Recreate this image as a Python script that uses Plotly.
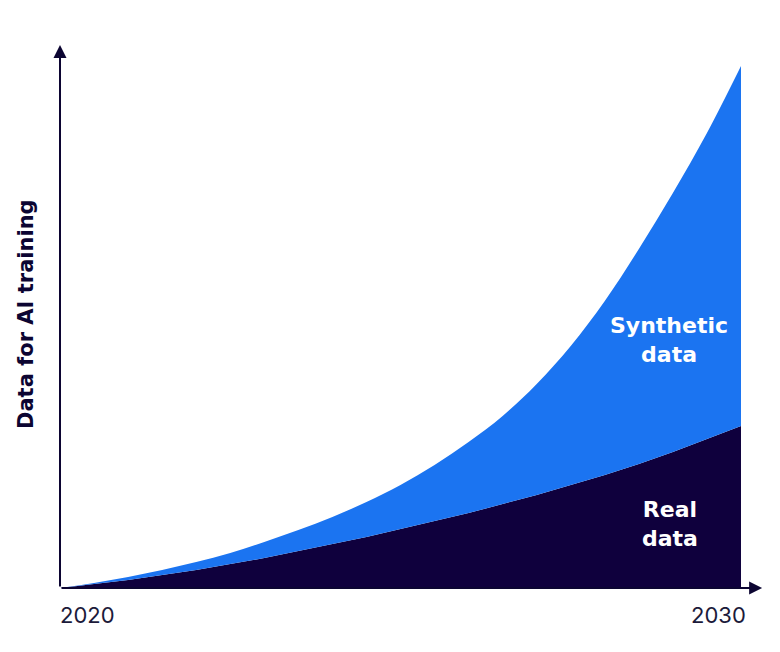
import plotly.graph_objects as go

years = [2020, 2020.5, 2021, 2021.5, 2022, 2022.5, 2023, 2023.5, 2024, 2024.5, 2025,
         2025.5, 2026, 2026.5, 2027, 2027.5, 2028, 2028.5, 2029, 2029.5, 2030]
real = [0, 4, 8, 13, 18, 24, 30, 37, 44, 51, 59, 67, 75, 84, 93, 103, 113, 124, 136, 149, 162]
synthetic = [0, 1, 3, 5, 8, 11, 16, 21, 27, 35, 44, 56, 71, 88, 111, 139, 174, 215, 259, 306, 360]

navy = "#0f003d"
blue = "#1b74f1"
ink = "#0c0532"

fig = go.Figure()
fig.add_trace(go.Scatter(x=years, y=real, stackgroup="d", mode="none",
                         fillcolor=navy, line_shape="spline", name="Real data"))
fig.add_trace(go.Scatter(x=years, y=synthetic, stackgroup="d", mode="none",
                         fillcolor=blue, line_shape="spline", name="Synthetic data"))


# window pixel -> paper coords (plot area spans x 60..770, y 45..588)
def px_x(p):
    return (p - 60) / 710


def px_y(p):
    return (588 - p) / 543


# axes drawn as arrows
fig.add_annotation(x=2020, y=543, ax=2020, ay=0, xref="x", yref="y", axref="x", ayref="y",
                   showarrow=True, arrowhead=2, arrowsize=1.3, arrowwidth=2, arrowcolor=ink, text="")
fig.add_annotation(x=2030.31, y=0, ax=2020, ay=0, xref="x", yref="y", axref="x", ayref="y",
                   showarrow=True, arrowhead=2, arrowsize=1.3, arrowwidth=2, arrowcolor=ink, text="")

tick_font = dict(family="Inter, sans-serif", size=22, color="#1c1a3a")
fig.add_annotation(x=px_x(58), y=px_y(600), xref="paper", yref="paper", text="2020",
                   showarrow=False, xanchor="left", yanchor="top", font=tick_font)
fig.add_annotation(x=px_x(748), y=px_y(600), xref="paper", yref="paper", text="2030",
                   showarrow=False, xanchor="right", yanchor="top", font=tick_font)

fig.add_annotation(x=px_x(26), y=px_y(314), xref="paper", yref="paper",
                   text="<b>Data for AI training</b>", showarrow=False, textangle=-90,
                   xanchor="center", yanchor="middle",
                   font=dict(family="DejaVu Sans, sans-serif", size=21, color=ink))

lab_font = dict(family="DejaVu Sans, sans-serif", size=22, color="white")
fig.add_annotation(x=px_x(669), y=px_y(340), xref="paper", yref="paper",
                   text="<b>Synthetic<br>data</b>", showarrow=False,
                   xanchor="center", yanchor="middle", font=lab_font)
fig.add_annotation(x=px_x(670), y=px_y(524), xref="paper", yref="paper",
                   text="<b>Real<br>data</b>", showarrow=False,
                   xanchor="center", yanchor="middle", font=lab_font)

# faint boxes cut off at the right edge
fig.add_shape(type="rect", xref="paper", yref="paper", x0=px_x(773), x1=px_x(790),
              y0=px_y(290), y1=px_y(173), fillcolor="#f1f5fd", line=dict(color="#e2eaf7", width=1))
fig.add_shape(type="rect", xref="paper", yref="paper", x0=px_x(773), x1=px_x(790),
              y0=px_y(585), y1=px_y(403), fillcolor="#f8f8f8", line=dict(color="#e8e8e8", width=1))

# page body has an 8px margin, so the figure is shrunk and shifted by that
fig.update_layout(
    width=772, height=644,
    margin=dict(l=52, r=10, t=37, b=64),
    paper_bgcolor="white", plot_bgcolor="white",
    showlegend=False,
    xaxis=dict(range=[2020, 2030.426], visible=False, fixedrange=True),
    yaxis=dict(range=[0, 543], visible=False, fixedrange=True),
)

fig.write_html("out.html")
